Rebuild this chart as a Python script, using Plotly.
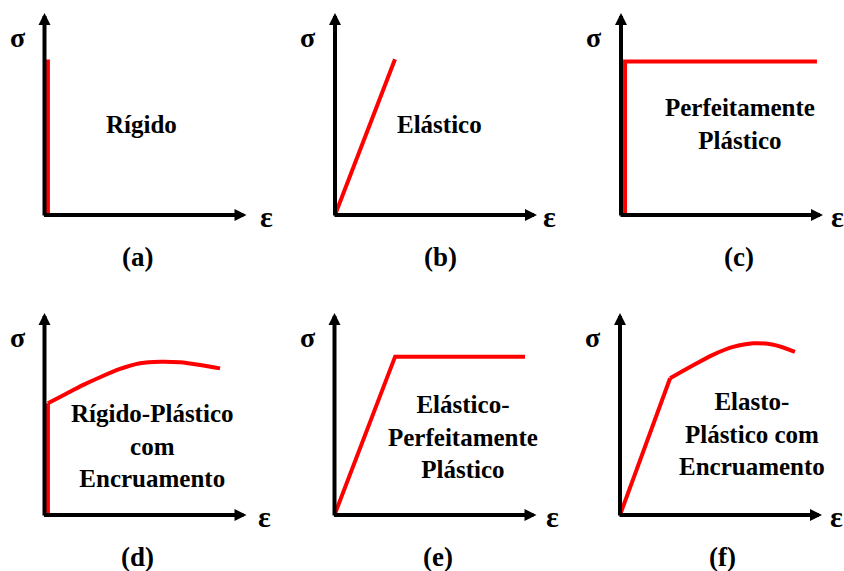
import plotly.graph_objects as go

# Stress-strain idealisations (strain, stress in arbitrary units, axis length 10)
rigid_strain = [0.17, 0.17]
rigid_stress = [0.0, 7.7]

elastic_strain = [0.0, 2.97]
elastic_stress = [0.0, 7.71]

perfect_strain = [0.2, 0.2, 9.7]
perfect_stress = [0.0, 7.6, 7.6]

rph_jump_strain = [0.17, 0.17]
rph_jump_stress = [0.0, 5.53]
rph_curve_strain = [0.17, 1.1, 1.92, 2.75, 3.74, 4.73, 5.72, 6.71, 7.7, 8.69]
rph_curve_stress = [5.53, 6.02, 6.44, 6.82, 7.23, 7.51, 7.59, 7.56, 7.43, 7.26]

epp_strain = [0.0, 3.0, 9.43]
epp_stress = [0.0, 7.84, 7.84]

eph_linear_strain = [0.0, 2.48]
eph_linear_stress = [0.0, 6.77]
eph_curve_strain = [2.48, 3.6, 4.6, 5.6, 6.6, 7.6, 8.66]
eph_curve_stress = [6.77, 7.4, 7.93, 8.32, 8.5, 8.43, 8.08]

panel_titles = [
    "Rígido",
    "Elástico",
    "Perfeitamente<br>Plástico",
    "Rígido-Plástico<br>com<br>Encruamento",
    "Elástico-<br>Perfeitamente<br>Plástico",
    "Elasto-<br>Plástico com<br>Encruamento",
]
panel_tags = ["(a)", "(b)", "(c)", "(d)", "(e)", "(f)"]

# each panel: list of (strain, stress, smooth)
panel_curves = [
    [(rigid_strain, rigid_stress, False)],
    [(elastic_strain, elastic_stress, False)],
    [(perfect_strain, perfect_stress, False)],
    [(rph_jump_strain, rph_jump_stress, False), (rph_curve_strain, rph_curve_stress, True)],
    [(epp_strain, epp_stress, False)],
    [(eph_linear_strain, eph_linear_stress, False), (eph_curve_strain, eph_curve_stress, True)],
]

# layout geometry (pixels)
W, H = 844, 571
UNIT = 20.2
AX_LEN = 10
origins = [(44.5, 215), (335, 215), (621, 215), (44.5, 515), (334.5, 515), (620, 515)]
title_pos = [(4.78, 4.46), (5.17, 4.46), (5.89, 4.48), (5.37, 3.42), (6.36, 3.86), (6.53, 3.99)]
tag_x = [4.58, 5.22, 5.84, 4.58, 5.12, 5.05]
eps_x = [10.97, 10.64, 10.74, 10.87, 10.77, 10.74]

FONT = "Liberation Serif, Times New Roman, serif"
RED = "#FF0000"
SIZE = 25


def to_paper(ox, oy, u, v):
    """Panel units -> paper fraction (for labels lying outside the axes)."""
    return (ox + u * UNIT) / W, 1 - (oy - v * UNIT) / H


def label(x, y, text, size, xref="paper", yref="paper"):
    return dict(x=x, y=y, xref=xref, yref=yref, text="<b>" + text + "</b>",
                showarrow=False, xanchor="center", yanchor="middle", align="center",
                font=dict(family=FONT, size=size, color="black"))


fig = go.Figure()
layout = dict(
    width=W, height=H, margin=dict(l=0, r=0, t=0, b=0),
    paper_bgcolor="white", plot_bgcolor="rgba(0,0,0,0)",
    showlegend=False, annotations=[],
)

for i, (ox, oy) in enumerate(origins):
    n = "" if i == 0 else str(i + 1)
    xa, ya = "xaxis" + n, "yaxis" + n
    xr, yr = "x" + n, "y" + n
    layout[xa] = dict(domain=[ox / W, (ox + AX_LEN * UNIT) / W], range=[0, AX_LEN],
                      visible=False, fixedrange=True, anchor=yr)
    layout[ya] = dict(domain=[1 - oy / H, 1 - (oy - AX_LEN * UNIT) / H], range=[0, AX_LEN],
                      visible=False, fixedrange=True, anchor=xr)

    for sx, sy, smooth in panel_curves[i]:
        fig.add_trace(go.Scatter(
            x=sx, y=sy, xaxis=xr, yaxis=yr, mode="lines", hoverinfo="skip",
            line=dict(color=RED, width=4, shape="spline" if smooth else "linear",
                      smoothing=0.8),
        ))

    # axis arrows
    for tip, tail in [((AX_LEN, 0), (-0.1, 0)), ((0, AX_LEN), (0, -0.1))]:
        layout["annotations"].append(dict(
            x=tip[0], y=tip[1], ax=tail[0], ay=tail[1], xref=xr, yref=yr,
            axref=xr, ayref=yr, text="", showarrow=True, arrowhead=2,
            arrowsize=0.6, arrowwidth=4, arrowcolor="black", standoff=0,
        ))

    layout["annotations"] += [
        label(*to_paper(ox, oy, -1.32, 8.78), "σ", 28),
        label(*to_paper(ox, oy, eps_x[i], -0.05), "ε", 30),
        label(title_pos[i][0], title_pos[i][1], panel_titles[i], SIZE, xr, yr),
        label(*to_paper(ox, oy, tag_x[i], -2.08), panel_tags[i], 27),
    ]

fig.update_layout(**layout)
fig.write_html("out.html")
